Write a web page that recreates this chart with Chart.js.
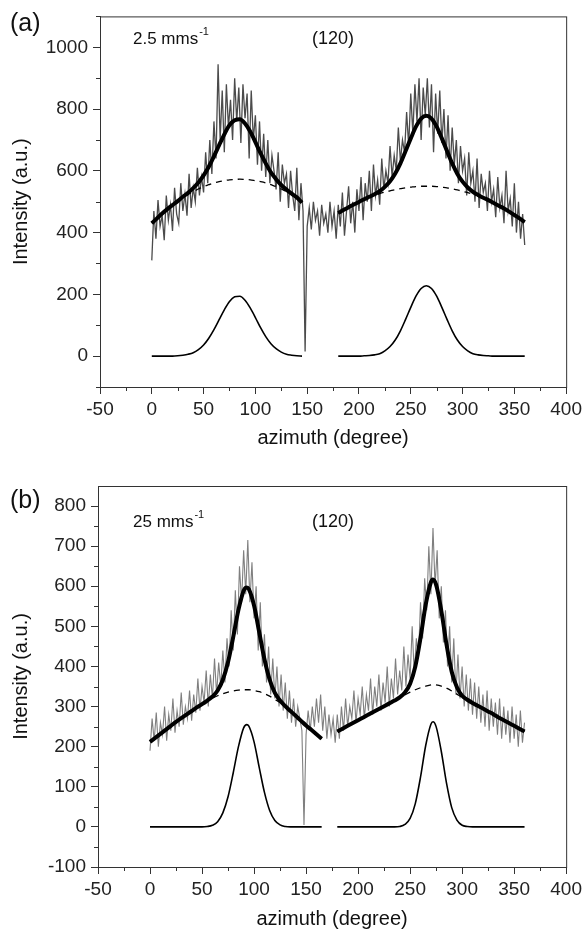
<!DOCTYPE html>
<html>
<head>
<meta charset="utf-8">
<script src="https://cdn.jsdelivr.net/npm/chart.js@4.4.0/dist/chart.umd.min.js"></script>
<style>
html, body { margin: 0; padding: 0; background: #fff; }
canvas { display: block; }
</style>
</head>
<body>
<canvas id="chartA" width="586" height="460"></canvas>
<canvas id="chartB" width="586" height="473"></canvas>
<script>
// ---- tick values ----
const azimuthTicks = [-50, 0, 50, 100, 150, 200, 250, 300, 350, 400];
const azimuthMinor = [-25, 25, 75, 125, 175, 225, 275, 325, 375];
const intensityTicksA = [0, 200, 400, 600, 800, 1000];
const intensityMinorA = [-100, 100, 300, 500, 700, 900, 1100];
const intensityTicksB = [-100, 0, 100, 200, 300, 400, 500, 600, 700, 800];
const intensityMinorB = [-50, 50, 150, 250, 350, 450, 550, 650, 750];

// ---- measured intensity, 2 degree steps from 0 to 360 ----
const azimuth = Array.from({ length: 181 }, (_, i) => i * 2);
const measuredA = [
  310, 470, 380, 505, 420, 455, 375, 520, 440, 490,
  405, 545, 460, 430, 560, 470, 525, 455, 590, 480,
  545, 500, 610, 520, 580, 530, 660, 560, 700, 590,
  760, 640, 945, 700, 860, 660, 880, 740, 830, 700,
  900, 760, 870, 690, 880, 770, 850, 640, 860, 700,
  780, 620, 760, 600, 720, 580, 700, 560, 650, 600,
  540, 660, 500, 620, 560, 590, 480, 600, 520, 470,
  610, 440, 560, 470, 15, 420, 480, 410, 500, 440,
  470, 390, 490, 430, 460, 400, 500, 420, 470, 380,
  490, 420, 530, 390, 470, 550, 430, 500, 400, 540,
  470, 580, 440, 560, 500, 600, 470, 620, 520, 570,
  490, 640, 540, 600, 560, 680, 580, 650, 600, 740,
  630, 700, 660, 790, 680, 850, 720, 880, 760, 900,
  700, 870, 780, 900, 740, 880, 660, 850, 720, 860,
  690, 800, 640, 780, 600, 740, 620, 700, 560, 680,
  600, 640, 520, 660, 560, 600, 500, 640, 480, 590,
  530, 560, 470, 600, 500, 540, 450, 580, 480, 520,
  430, 600, 470, 510, 420, 560, 400, 500, 380, 460,
  360
];
const measuredB = [
  190, 270, 215, 285, 200, 260, 230, 300, 215, 280,
  240, 320, 235, 290, 250, 335, 255, 300, 270, 340,
  265, 330, 285, 370, 290, 350, 310, 390, 300, 380,
  320, 420, 330, 410, 350, 440, 360, 470, 400, 540,
  440, 590, 480, 650, 560, 690, 580, 715, 560, 660,
  520, 600, 440, 560, 400, 480, 360, 450, 330, 420,
  320, 400, 300, 380, 290, 360, 270, 340, 260, 320,
  250, 300, 270, 240, 5, 230, 290, 240, 300, 250,
  320, 260, 330, 240, 300, 220, 280, 230, 270, 210,
  280, 220, 300, 240, 320, 250, 300, 270, 340, 260,
  320, 280, 350, 270, 330, 290, 370, 280, 350, 300,
  380, 290, 360, 310, 400, 300, 370, 320, 420, 330,
  390, 340, 450, 350, 430, 370, 500, 380, 470, 420,
  560, 470, 620, 540, 700, 580, 745, 600, 690, 520,
  600, 460, 540, 400, 500, 360, 470, 330, 430, 320,
  400, 300, 380, 290, 370, 280, 360, 270, 350, 260,
  330, 250, 340, 240, 320, 250, 310, 230, 320, 220,
  300, 230, 290, 210, 300, 220, 280, 200, 290, 210,
  260
];

// ---- fitted curves, panel (a) ----
const fitXA1 = [0, 5, 10, 15, 20, 25, 30, 35, 40, 45, 50, 55, 60, 65, 70, 75, 80, 85, 90, 95, 100, 105, 110, 115, 120, 125, 130, 135, 140, 145];
const baseA1 = [430, 446, 462, 476, 489, 502, 513, 523, 533, 541, 549, 555, 561, 565, 568, 571, 572, 573, 572, 571, 568, 565, 561, 555, 549, 541, 533, 523, 513, 497];
const peakA1 = [0, 0, 0, 0, 0, 1, 3, 6, 11, 21, 36, 58, 86, 118, 150, 177, 192, 194, 181, 156, 125, 92, 63, 40, 24, 13, 6, 3, 1, 0];
const fitA1 = [430, 446, 462, 476, 489, 502, 516, 529, 544, 562, 585, 613, 647, 683, 718, 748, 764, 767, 753, 727, 693, 657, 624, 595, 573, 554, 539, 526, 514, 497];

const fitXA2 = [180, 185, 190, 195, 200, 205, 210, 215, 220, 225, 230, 235, 240, 245, 250, 255, 260, 265, 270, 275, 280, 285, 290, 295, 300, 305, 310, 315, 320, 325, 330, 335, 340, 345, 350, 355, 360];
const baseA2 = [463, 473, 482, 491, 499, 507, 514, 520, 526, 531, 535, 539, 542, 545, 547, 549, 550, 550, 550, 549, 547, 545, 542, 538, 534, 529, 524, 518, 511, 504, 496, 487, 478, 468, 457, 446, 434];
const peakA2 = [0, 0, 0, 0, 0, 1, 2, 4, 8, 17, 31, 52, 82, 119, 158, 194, 219, 228, 219, 194, 158, 119, 82, 52, 31, 17, 8, 4, 2, 1, 0, 0, 0, 0, 0, 0, 0];
const fitA2 = [463, 473, 482, 491, 499, 508, 516, 524, 534, 548, 566, 591, 624, 664, 705, 743, 769, 778, 769, 743, 705, 664, 624, 590, 565, 546, 532, 522, 513, 505, 496, 487, 478, 468, 457, 446, 434];

// ---- fitted curves, panel (b) ----
const fitXB1 = [0, 5, 10, 15, 20, 25, 30, 35, 40, 45, 50, 55, 60, 65, 70, 75, 80, 85, 90, 93, 95, 100, 105, 110, 115, 120, 125, 130, 135, 140, 145, 150, 155, 160, 165];
const baseB1 = [212, 222, 232, 242, 252, 262, 271, 280, 289, 298, 306, 314, 321, 327, 332, 336, 339, 341, 342, 342, 342, 340, 337, 332, 326, 318, 310, 300, 289, 277, 265, 253, 242, 231, 220];
const peakB1 = [0, 0, 0, 0, 0, 0, 0, 0, 0, 0, 0, 1, 4, 13, 35, 75, 135, 200, 247, 255, 251, 212, 148, 86, 41, 16, 5, 1, 0, 0, 0, 0, 0, 0, 0];
const fitB1 = [212, 222, 232, 242, 252, 262, 271, 280, 289, 298, 306, 315, 325, 340, 367, 411, 474, 541, 589, 597, 593, 552, 485, 418, 367, 334, 315, 301, 289, 277, 265, 253, 242, 231, 220];

const fitXB2 = [180, 185, 190, 195, 200, 205, 210, 215, 220, 225, 230, 235, 240, 245, 250, 255, 260, 265, 270, 272, 275, 280, 285, 290, 295, 300, 305, 310, 315, 320, 325, 330, 335, 340, 345, 350, 355, 360];
const baseB2 = [238, 245, 252, 259, 266, 273, 280, 287, 294, 301, 308, 315, 322, 329, 336, 342, 347, 351, 354, 355, 354, 351, 346, 339, 331, 323, 316, 309, 302, 295, 288, 281, 273, 266, 259, 252, 245, 238];
const peakB2 = [0, 0, 0, 0, 0, 0, 0, 0, 0, 0, 0, 0, 1, 6, 21, 58, 124, 203, 256, 262, 250, 188, 109, 48, 17, 4, 1, 0, 0, 0, 0, 0, 0, 0, 0, 0, 0, 0];
const fitB2 = [238, 245, 252, 259, 266, 273, 280, 287, 294, 301, 308, 315, 323, 335, 357, 400, 471, 554, 610, 617, 604, 539, 455, 387, 348, 327, 317, 309, 302, 295, 288, 281, 273, 266, 259, 252, 245, 238];

const FONT = '"Liberation Sans", Arial, Helvetica, sans-serif';

function pts(xs, ys) {
  return xs.map((x, i) => ({ x: x, y: ys[i] }));
}

function noiseSet(ys, color, width) {
  return { data: pts(azimuth, ys), borderColor: color, borderWidth: width, pointRadius: 0, tension: 0, order: 5 };
}
function baseSet(xs, ys) {
  return { data: pts(xs, ys), borderColor: '#000', borderWidth: 1.3, borderDash: [6, 5], pointRadius: 0, cubicInterpolationMode: 'monotone', order: 3 };
}
function fitSet(xs, ys) {
  return { data: pts(xs, ys), borderColor: '#000', borderWidth: 4, pointRadius: 0, cubicInterpolationMode: 'monotone', order: 2 };
}
function peakSet(xs, ys) {
  return { data: pts(xs, ys), borderColor: '#000', borderWidth: 1.6, pointRadius: 0, cubicInterpolationMode: 'monotone', order: 1 };
}

// frame, minor ticks and panel texts
const decor = {
  id: 'decor',
  afterDraw(chart, args, o) {
    const { ctx, chartArea: a, scales: { x, y } } = chart;
    ctx.save();
    ctx.strokeStyle = '#333';
    ctx.lineWidth = 1;
    ctx.strokeRect(a.left + 0.5, a.top + 0.5, a.right - a.left, a.bottom - a.top);
    ctx.beginPath();
    o.minorX.forEach(v => {
      const px = Math.round(x.getPixelForValue(v)) + 0.5;
      ctx.moveTo(px, a.bottom);
      ctx.lineTo(px, a.bottom + 4);
    });
    o.minorY.forEach(v => {
      const py = Math.round(y.getPixelForValue(v)) + 0.5;
      if (py < a.top || py > a.bottom + 1) return;
      ctx.moveTo(a.left, py);
      ctx.lineTo(a.left - 4, py);
    });
    ctx.stroke();

    ctx.fillStyle = '#111';
    ctx.textBaseline = 'alphabetic';
    ctx.font = '25px ' + FONT;
    ctx.fillText(o.panel, 10, o.panelY);
    ctx.font = '17px ' + FONT;
    ctx.fillText(o.speed, 133, o.textY);
    const w = ctx.measureText(o.speed).width;
    ctx.font = '11px ' + FONT;
    ctx.fillText('-1', 133 + w + 1, o.textY - 9);
    ctx.font = '18px ' + FONT;
    ctx.fillText('(120)', 312, o.textY);
    ctx.restore();
  }
};

function makeChart(id, cfg) {
  const axisColor = '#333';
  return new Chart(document.getElementById(id), {
    type: 'line',
    data: { datasets: cfg.datasets },
    options: {
      responsive: false,
      animation: false,
      devicePixelRatio: 1,
      layout: { padding: { top: cfg.top, right: 19, left: 0, bottom: 0 } },
      plugins: {
        legend: { display: false },
        tooltip: { enabled: false },
        decor: cfg.decor
      },
      scales: {
        x: {
          type: 'linear',
          min: -50,
          max: 400,
          afterBuildTicks: s => { s.ticks = azimuthTicks.map(v => ({ value: v })); },
          afterFit: s => { s.height = cfg.xHeight; },
          ticks: { autoSkip: false, maxRotation: 0, padding: 4, color: '#222', font: { size: 19, family: FONT }, callback: v => String(v) },
          grid: { drawOnChartArea: false, drawTicks: true, tickLength: 7, tickColor: axisColor },
          border: { color: axisColor },
          title: { display: true, text: 'azimuth (degree)', color: '#111', font: { size: 20, family: FONT }, padding: { top: 0, bottom: cfg.titlePad } }
        },
        y: {
          type: 'linear',
          min: cfg.yMin,
          max: cfg.yMax,
          afterBuildTicks: s => { s.ticks = cfg.yTicks.map(v => ({ value: v })); },
          afterFit: s => { s.width = cfg.yWidth; },
          ticks: { padding: 5, color: '#222', font: { size: 19, family: FONT }, callback: v => String(v) },
          grid: { drawOnChartArea: false, drawTicks: true, tickLength: 7, tickColor: axisColor },
          border: { color: axisColor },
          title: { display: true, text: 'Intensity (a.u.)', color: '#111', font: { size: 20, family: FONT }, padding: { top: 9, bottom: 0 } }
        }
      }
    },
    plugins: [decor]
  });
}

makeChart('chartA', {
  top: 10, xHeight: 73, yWidth: 100, titlePad: 10,
  yMin: -100, yMax: 1100, yTicks: intensityTicksA,
  decor: { minorX: azimuthMinor, minorY: intensityMinorA, panel: '(a)', panelY: 31, speed: '2.5 mms', textY: 44 },
  datasets: [
    peakSet(fitXA1, peakA1), peakSet(fitXA2, peakA2),
    fitSet(fitXA1, fitA1), fitSet(fitXA2, fitA2),
    baseSet(fitXA1, baseA1), baseSet(fitXA2, baseA2),
    noiseSet(measuredA, 'rgba(55,55,55,0.9)', 1.3)
  ]
});

makeChart('chartB', {
  top: 26, xHeight: 66, yWidth: 98, titlePad: 2,
  yMin: -100, yMax: 850, yTicks: intensityTicksB,
  decor: { minorX: azimuthMinor, minorY: intensityMinorB, panel: '(b)', panelY: 48, speed: '25 mms', textY: 67 },
  datasets: [
    peakSet(fitXB1, peakB1), peakSet(fitXB2, peakB2),
    fitSet(fitXB1, fitB1), fitSet(fitXB2, fitB2),
    baseSet(fitXB1, baseB1), baseSet(fitXB2, baseB2),
    noiseSet(measuredB, 'rgba(105,105,105,0.85)', 1.1)
  ]
});
</script>
</body>
</html>
